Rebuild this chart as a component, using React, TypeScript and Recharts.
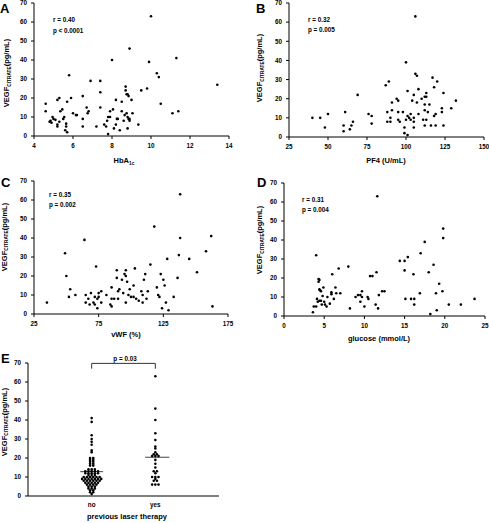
import React from "react";
import { ScatterChart, Scatter, XAxis, YAxis, ReferenceLine } from "recharts";

const FONT = "'Liberation Sans', Arial, sans-serif";

const yTicks = [0, 10, 20, 30, 40, 50, 60, 70];

// A: HbA1c vs VEGF
const hba1c = [4.6, 4.6, 4.8, 4.85, 4.9, 4.95, 5.0, 5.1, 5.2, 5.3, 5.2, 5.2, 5.35, 5.3, 5.45, 5.5, 5.55, 5.6, 5.7, 5.65, 5.65, 5.7, 5.8, 5.9, 6.0, 6.15, 6.2, 6.5, 6.5, 6.5, 6.7, 6.75, 6.8, 6.9, 7.2, 7.4, 7.4, 7.4, 7.6, 7.7, 7.8, 7.75, 7.8, 7.9, 7.9, 8.05, 8.0, 8.2, 8.1, 8.2, 8.25, 8.3, 8.4, 8.5, 8.5, 8.6, 8.65, 8.7, 8.7, 8.75, 8.8, 8.85, 9.0, 8.75, 8.8, 8.85, 8.9, 8.9, 8.8, 9.05, 8.9, 9.35, 9.5, 9.8, 9.9, 10.0, 10.3, 10.4, 10.5, 11.1, 11.3, 11.4, 13.4];
const vegfA = [17, 13, 7.5, 8, 7, 10, 9, 8.5, 19, 20, 6, 5, 13, 7.5, 14, 9, 10, 3, 2, 6.5, 5, 18, 32, 20, 12, 11, 11, 21, 9, 5, 15, 12, 13, 29, 5, 29, 23, 15, 6, 5, 1, 8, 10, 10, 13, 14, 40, 19, 4, 6, 9, 9, 3, 13, 18, 8, 11, 26, 24, 22, 22, 21, 19, 12, 10, 9, 9, 8, 4, 12, 46, 6, 24, 25, 39, 63, 33, 31, 17, 12, 41, 13, 27];

// B: PF4 vs VEGF
const pf4 = [40, 45, 48, 50, 60, 60, 61, 64, 65, 66, 69, 76, 78, 78, 87, 88, 88, 89, 90, 90, 91, 91, 94, 95, 95, 95, 96, 98, 99, 99, 100, 101, 100, 101, 101, 102, 103, 104, 103, 105, 105, 105, 105, 106, 106, 107, 107, 108, 108, 110, 111, 112, 112, 112, 112, 113, 113, 113, 114, 115, 117, 118, 118, 119, 119, 116, 120, 123, 123, 124, 124, 129, 132];
const vegfB = [10, 10, 5, 12, 3, 6, 13, 4, 6, 8, 22, 12, 7, 11, 27, 13, 8, 29, 10, 8, 18, 14, 20, 19, 13, 9, 8, 13, 5, 2, 39, 1, 9, 24, 11, 10, 12, 19, 9, 22, 10, 8, 5, 33, 63, 32, 18, 25, 12, 20, 9, 21, 17, 14, 6, 23, 21, 9, 13, 17, 31, 26, 11, 12, 6, 6, 29, 15, 13, 23, 6, 15, 19];

// C: vWF vs VEGF
const vwf = [35, 49, 50, 52, 53, 57, 64, 65, 65, 67, 68, 69, 71, 72, 72, 73, 74, 74, 75, 75, 77, 77, 81, 84, 85, 85, 85, 87, 89, 89, 90, 91, 90, 93, 95, 96, 96, 94, 96, 97, 98, 99, 100, 102, 102, 103, 104, 106, 108, 109, 109, 110, 111, 112, 113, 115, 118, 120, 121, 122, 123, 124, 125, 126, 127, 128, 129, 133, 136, 137, 138, 138, 145, 151, 158, 162, 163];
const vegfC = [6, 32, 20, 9, 13, 10, 39, 10, 6, 8, 5, 11, 6, 5, 9, 25, 8, 3, 9, 11, 6, 12, 10, 5, 14, 8, 4, 8, 19, 23, 12, 13, 8, 18, 21, 23, 20, 11, 6, 17, 10, 13, 9, 15, 9, 24, 8, 7, 12, 10, 6, 18, 21, 8, 12, 26, 46, 14, 10, 9, 21, 3, 18, 15, 6, 29, 2, 9, 19, 31, 63, 40, 29, 22, 33, 41, 4];

// D: glucose vs VEGF
const glucose = [3.6, 3.7, 4.0, 4.0, 4.1, 4.2, 4.3, 4.4, 4.3, 4.4, 4.5, 4.6, 4.4, 4.6, 4.7, 4.8, 4.9, 5.0, 5.1, 5.3, 5.4, 5.7, 5.9, 5.9, 6.0, 6.2, 6.4, 6.5, 6.8, 7.0, 8.0, 8.2, 8.9, 9.2, 9.5, 9.5, 9.7, 9.7, 10.0, 10.4, 10.5, 10.7, 11.0, 11.4, 11.5, 11.6, 11.7, 11.8, 12.2, 12.5, 14.4, 15.0, 15.0, 15.1, 15.4, 15.8, 16.1, 16.2, 16.2, 16.9, 17.0, 17.5, 18.0, 18.2, 18.6, 18.9, 19.0, 19.3, 19.7, 19.8, 19.8, 20.5, 22.0, 23.7];
const vegfD = [2, 5, 5, 32, 9, 7.5, 19.5, 19, 18, 14, 13.5, 13, 8, 8, 6, 10.5, 15, 7.5, 6, 5, 10, 6.5, 11.5, 12.5, 22, 9, 15, 12, 25, 12, 26, 4, 10, 11, 7.5, 11, 13, 10, 5, 10, 9, 21, 21, 6, 23, 63, 4, 11, 13, 13, 29, 29, 24, 9, 31, 9, 22, 9, 6, 12, 33, 39, 23, 1, 27, 12, 3, 17, 13, 46, 41, 6, 6, 9];

// E: previous laser therapy
const laserGroups = ["no", "yes"];
const laserNo = [41, 39, 32, 30, 28.5, 27, 24, 23, 20, 20, 19, 19, 18, 18, 17, 17, 16, 16, 14, 14, 14, 13, 13, 13, 13, 13, 12, 12, 12, 12, 12, 11, 11, 11, 10, 10, 10, 10, 10, 10, 9, 9, 9, 9, 9, 9, 9, 8, 8, 8, 8, 8, 8, 7, 7, 7, 7, 7, 6, 6, 6, 6, 5, 5, 5, 4, 4, 4, 3, 3, 2, 2, 1];
const laserYes = [63, 46, 40, 33, 29.5, 26, 25, 23, 22, 22, 21, 21, 21, 19, 17, 15, 13, 13, 12, 10, 10, 10, 9, 8, 8, 6, 6, 6];
const medianNo = 12.8;
const medianYes = 20.4;

const pairUp = (xs: number[], ys: number[]) => xs.map((x, i) => ({ x, y: ys[i] }));

// simple dot-plot layout: equal values spread side by side around the group centre
const swarm = (values: number[], centre: number, step = 0.05) => {
  const counts: Record<string, number> = {};
  values.forEach((v) => (counts[v] = (counts[v] || 0) + 1));
  const seen: Record<string, number> = {};
  return values.map((v) => {
    const n = counts[v];
    const i = seen[v] || 0;
    seen[v] = i + 1;
    return { x: centre + (i - (n - 1) / 2) * step, y: v };
  });
};

const Dot = (props: any) => <circle cx={props.cx} cy={props.cy} r={1.3} fill="#000" />;

const tickStyle = { fontSize: 6.3, fontWeight: 700, fill: "#000", fontFamily: FONT };

type Box = { left: number; top: number; width: number; height: number };
type Plot = { left: number; top: number; right: number; bottom: number };

function Panel(props: {
  frame: Box;
  plot: Plot;
  xDomain: [number, number];
  xTicks: number[];
  points: { x: number; y: number }[];
  xFormat?: (v: number) => string;
  xTickLine?: boolean;
  children?: React.ReactNode;
}) {
  const { frame, plot, xTickLine = true } = props;
  return (
    <div style={{ position: "absolute", left: frame.left, top: frame.top }}>
      <ScatterChart
        width={frame.width}
        height={frame.height}
        margin={{
          top: plot.top - frame.top,
          right: frame.left + frame.width - plot.right,
          bottom: 0,
          left: 0,
        }}
      >
        <XAxis
          type="number"
          dataKey="x"
          domain={props.xDomain}
          ticks={props.xTicks}
          interval={0}
          allowDataOverflow
          height={frame.top + frame.height - plot.bottom}
          axisLine={{ stroke: "#000" }}
          tickLine={xTickLine ? { stroke: "#000" } : false}
          tickSize={xTickLine ? 3 : 0}
          tickMargin={xTickLine ? 5 : 7}
          tick={tickStyle}
          tickFormatter={props.xFormat}
        />
        <YAxis
          type="number"
          dataKey="y"
          domain={[0, 70]}
          ticks={yTicks}
          interval={0}
          allowDataOverflow
          width={plot.left - frame.left}
          axisLine={{ stroke: "#000" }}
          tickLine={{ stroke: "#000" }}
          tickSize={3}
          tickMargin={4}
          tick={tickStyle}
        />
        <Scatter data={props.points} shape={Dot} isAnimationActive={false} />
        {props.children}
      </ScatterChart>
    </div>
  );
}

function YTitle({ x, y }: { x: number; y: number }) {
  return (
    <text
      transform={`translate(${x},${y}) rotate(-90)`}
      textAnchor="middle"
      fontSize={7.5}
      fontWeight={700}
      fontFamily={FONT}
      fill="#000"
    >
      VEGF
      <tspan fontSize={4.8} dy={1.5}>
        CITRATE
      </tspan>
      <tspan dy={-1.5}>(pg/mL)</tspan>
    </text>
  );
}

const txt = { fontWeight: 700, fontFamily: FONT, fill: "#000" };

export default function App() {
  return (
    <div style={{ position: "absolute", left: 0, top: 0, width: 489, height: 523, background: "#fff" }}>
      <Panel
        frame={{ left: 0, top: 0, width: 245, height: 170 }}
        plot={{ left: 34, top: 3, right: 229, bottom: 136 }}
        xDomain={[4, 14]}
        xTicks={[4, 6, 8, 10, 12, 14]}
        points={pairUp(hba1c, vegfA)}
      />
      <Panel
        frame={{ left: 245, top: 0, width: 244, height: 170 }}
        plot={{ left: 289, top: 3, right: 484, bottom: 137 }}
        xDomain={[25, 150]}
        xTicks={[25, 50, 75, 100, 125, 150]}
        points={pairUp(pf4, vegfB)}
      />
      <Panel
        frame={{ left: 0, top: 170, width: 245, height: 175 }}
        plot={{ left: 34, top: 181, right: 228, bottom: 314 }}
        xDomain={[25, 175]}
        xTicks={[25, 75, 125, 175]}
        points={pairUp(vwf, vegfC)}
      />
      <Panel
        frame={{ left: 245, top: 170, width: 244, height: 175 }}
        plot={{ left: 284, top: 183, right: 485, bottom: 316 }}
        xDomain={[0, 25]}
        xTicks={[0, 5, 10, 15, 20, 25]}
        points={pairUp(glucose, vegfD)}
      />
      <Panel
        frame={{ left: 0, top: 345, width: 245, height: 178 }}
        plot={{ left: 28, top: 363, right: 219, bottom: 496 }}
        xDomain={[0, 3]}
        xTicks={[1, 2]}
        xTickLine={false}
        xFormat={(v) => laserGroups[v - 1]}
        points={[...swarm(laserNo, 1), ...swarm(laserYes, 2)]}
      >
        <ReferenceLine segment={[{ x: 0.82, y: medianNo }, { x: 1.18, y: medianNo }]} stroke="#444" ifOverflow="visible" />
        <ReferenceLine segment={[{ x: 1.84, y: medianYes }, { x: 2.22, y: medianYes }]} stroke="#444" ifOverflow="visible" />
        <ReferenceLine segment={[{ x: 1, y: 69.8 }, { x: 2, y: 69.8 }]} stroke="#333" ifOverflow="visible" />
        <ReferenceLine segment={[{ x: 1, y: 69.8 }, { x: 1, y: 67 }]} stroke="#333" ifOverflow="visible" />
        <ReferenceLine segment={[{ x: 2, y: 69.8 }, { x: 2, y: 67 }]} stroke="#333" ifOverflow="visible" />
      </Panel>

      <svg width={489} height={523} style={{ position: "absolute", left: 0, top: 0, pointerEvents: "none" }}>
        <text x={0} y={13} fontSize={13} {...txt}>A</text>
        <text x={256} y={13} fontSize={13} {...txt}>B</text>
        <text x={1} y={187} fontSize={13} {...txt}>C</text>
        <text x={257} y={187} fontSize={13} {...txt}>D</text>
        <text x={1} y={363} fontSize={13} {...txt}>E</text>

        <text x={53} y={21.5} fontSize={6.3} {...txt}>r = 0.40</text>
        <text x={53} y={32.5} fontSize={6.3} {...txt}>p &lt; 0.0001</text>
        <text x={308} y={21.5} fontSize={6.3} {...txt}>r = 0.32</text>
        <text x={308} y={32} fontSize={6.3} {...txt}>p = 0.005</text>
        <text x={49} y={196.5} fontSize={6.3} {...txt}>r = 0.35</text>
        <text x={49} y={207} fontSize={6.3} {...txt}>p = 0.002</text>
        <text x={302} y={202} fontSize={6.3} {...txt}>r = 0.31</text>
        <text x={302} y={212} fontSize={6.3} {...txt}>p = 0.004</text>
        <text x={125} y={360.5} fontSize={6.3} textAnchor="middle" {...txt}>p = 0.03</text>

        <text x={124} y={163} fontSize={7.5} textAnchor="middle" {...txt}>
          HbA<tspan fontSize={4.8} dy={1.5}>1c</tspan>
        </text>
        <text x={386} y={163} fontSize={7.5} textAnchor="middle" {...txt}>PF4 (U/mL)</text>
        <text x={126} y={336.5} fontSize={7.5} textAnchor="middle" {...txt}>vWF (%)</text>
        <text x={379} y={340.5} fontSize={7.5} textAnchor="middle" {...txt}>glucose (mmol/L)</text>
        <text x={127} y={519} fontSize={7.5} textAnchor="middle" {...txt}>previous laser therapy</text>

        <YTitle x={9.3} y={73} />
        <YTitle x={262} y={68} />
        <YTitle x={6.5} y={237} />
        <YTitle x={262} y={240} />
        <YTitle x={6.5} y={422} />
      </svg>
    </div>
  );
}
